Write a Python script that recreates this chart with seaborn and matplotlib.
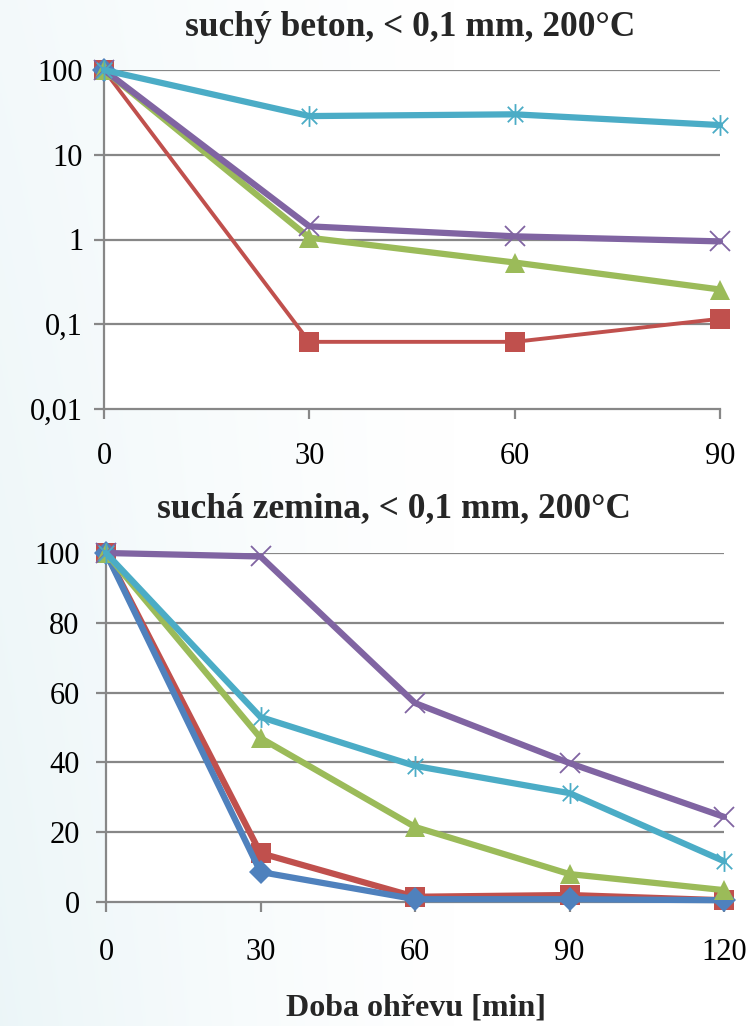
import numpy as np
import pandas as pd
import matplotlib
matplotlib.use("Agg")
import matplotlib.pyplot as plt
from matplotlib.path import Path
import seaborn as sns

# ---------------- data ----------------
series_names = ["s1", "s2", "s3", "s4", "s5"]

beton_time = [0, 30, 60, 90]
beton_s1 = [100, np.nan, np.nan, np.nan]      # blue (only first point visible on log axis)
beton_s2 = [100, 0.062, 0.062, 0.116]         # red
beton_s3 = [100, 1.05, 0.535, 0.257]          # green
beton_s4 = [100, 1.43, 1.09, 0.95]            # purple
beton_s5 = [100, 28.6, 30.0, 22.4]            # cyan
beton_yticks = [0.01, 0.1, 1, 10, 100]
beton_yticklabels = ["0,01", "0,1", "1", "10", "100"]

zemina_time = [0, 30, 60, 90, 120]
zemina_s1 = [100, 8.6, 0.8, 0.8, 0.5]         # blue
zemina_s2 = [100, 14.0, 1.5, 2.0, 0.5]        # red
zemina_s3 = [100, 47.0, 21.5, 8.0, 3.4]       # green
zemina_s4 = [100, 99.0, 57.0, 39.8, 24.4]     # purple
zemina_s5 = [100, 53.0, 39.0, 31.2, 11.7]     # cyan
zemina_yticks = [0, 20, 40, 60, 80, 100]

title_top = "suchý beton, < 0,1 mm, 200°C"
title_bottom = "suchá zemina, < 0,1 mm, 200°C"
xlabel = "Doba ohřevu [min]"

# ---------------- style ----------------
sns.set_theme(style="white")
plt.rcParams["font.family"] = ["Liberation Serif", "DejaVu Serif"]

colors = {"s1": "#4F81BD", "s2": "#C0504D", "s3": "#9BBB59", "s4": "#8064A2", "s5": "#4BACC6"}
grid_c = "#878787"

# Excel-like asterisk marker (x plus vertical bar)
star_path = Path(
    [(-1, -1), (1, 1), (-1, 1), (1, -1), (0, -1.35), (0, 1.35)],
    [Path.MOVETO, Path.LINETO, Path.MOVETO, Path.LINETO, Path.MOVETO, Path.LINETO],
)

marker_style = {
    "s1": dict(marker="D", markersize=12, markeredgewidth=0),
    "s2": dict(marker="s", markersize=14, markeredgewidth=0),
    "s3": dict(marker="^", markersize=15, markeredgewidth=0),
    "s4": dict(marker="x", markersize=14, markeredgewidth=1.3),
    "s5": dict(marker=star_path, markersize=15, markeredgewidth=1.3, markerfacecolor="none"),
}

W, H = 755, 1026
fig = plt.figure(figsize=(W / 100, H / 100), dpi=100)

# background gradient (very light bluish on the left fading to white)
bg = fig.add_axes([0, 0, 1, 1], zorder=-10)
xx = np.linspace(0, 1, 300)
yy = np.linspace(0, 1, 400)
X, Y = np.meshgrid(xx, yy)
a = np.clip(1 - X / 0.6, 0, 1) ** 1.2 * (0.6 + 0.4 * Y)
base = np.array([0.925, 0.963, 0.972])
img = np.ones((400, 300, 3)) * (1 - a[..., None]) + base * a[..., None]
bg.imshow(img, aspect="auto", extent=[0, 1, 0, 1], origin="upper")
bg.axis("off")


def px_axes(l, r, t, b):
    return fig.add_axes([l / W, 1 - b / H, (r - l) / W, (b - t) / H])


def style_axes(ax):
    ax.set_facecolor("white")
    for s in ["top", "right"]:
        ax.spines[s].set_visible(False)
    for s in ["left", "bottom"]:
        ax.spines[s].set_color(grid_c)
        ax.spines[s].set_linewidth(1.6)
    ax.tick_params(axis="both", which="major", direction="out", length=7, width=1.6,
                   color=grid_c, labelsize=22, labelcolor="black", left=True, bottom=True)
    ax.tick_params(axis="both", which="minor", left=False, bottom=False)
    ax.grid(False)


def draw_series(ax, x, ys, order, lw):
    for name in order:
        df = pd.DataFrame({"t": x, "v": ys[name]}).dropna()
        sns.lineplot(data=df, x="t", y="v", ax=ax, color=colors[name], linewidth=lw[name],
                     markeredgecolor=colors[name], clip_on=False, zorder=3,
                     **marker_style[name])


# ---------------- top: beton (log) ----------------
ax1 = px_axes(104, 720, 70, 409)
style_axes(ax1)
ax1.set_yscale("log")
ax1.set_ylim(0.01, 100)
ax1.set_xlim(0, 90)
for v in beton_yticks[1:]:
    ax1.axhline(v, color=grid_c, lw=1.6, zorder=1)
ys1 = {"s1": beton_s1, "s2": beton_s2, "s3": beton_s3, "s4": beton_s4, "s5": beton_s5}
draw_series(ax1, beton_time, ys1, ["s2", "s1", "s3", "s4", "s5"],
            {"s1": 4.5, "s2": 2.8, "s3": 4.5, "s4": 4.5, "s5": 4.5})
ax1.set_yticks(beton_yticks)
ax1.set_yticklabels(beton_yticklabels)
ax1.yaxis.set_minor_locator(matplotlib.ticker.NullLocator())
ax1.set_xticks(beton_time)
ax1.set_xticklabels([str(v) for v in beton_time])
ax1.tick_params(axis="x", pad=17)
ax1.tick_params(axis="y", pad=8)
ax1.set_xlabel("")
ax1.set_ylabel("")

# ---------------- bottom: zemina (linear) ----------------
ax2 = px_axes(106, 724, 553, 902)
style_axes(ax2)
ax2.set_ylim(0, 100)
ax2.set_xlim(0, 120)
for v in zemina_yticks[1:]:
    ax2.axhline(v, color=grid_c, lw=1.6, zorder=1)
ys2 = {"s1": zemina_s1, "s2": zemina_s2, "s3": zemina_s3, "s4": zemina_s4, "s5": zemina_s5}
draw_series(ax2, zemina_time, ys2, ["s2", "s1", "s3", "s4", "s5"],
            {"s1": 4.5, "s2": 4.5, "s3": 4.5, "s4": 4.5, "s5": 4.5})
ax2.set_yticks(zemina_yticks)
ax2.set_yticklabels([str(v) for v in zemina_yticks])
ax2.set_xticks(zemina_time)
ax2.set_xticklabels([str(v) for v in zemina_time])
ax2.tick_params(axis="x", pad=19)
ax2.tick_params(axis="y", pad=12)
ax2.set_xlabel("")
ax2.set_ylabel("")

# ---------------- titles ----------------
fig.text(410 / W, 1 - 27 / H, title_top, ha="center", va="center", fontsize=25.5, fontweight="bold")
fig.text(394 / W, 1 - 509 / H, title_bottom, ha="center", va="center", fontsize=25.5, fontweight="bold")
fig.text(416 / W, 1 - 1008 / H, xlabel, ha="center", va="center", fontsize=23, fontweight="bold")

fig.savefig("out.png", dpi=100)
